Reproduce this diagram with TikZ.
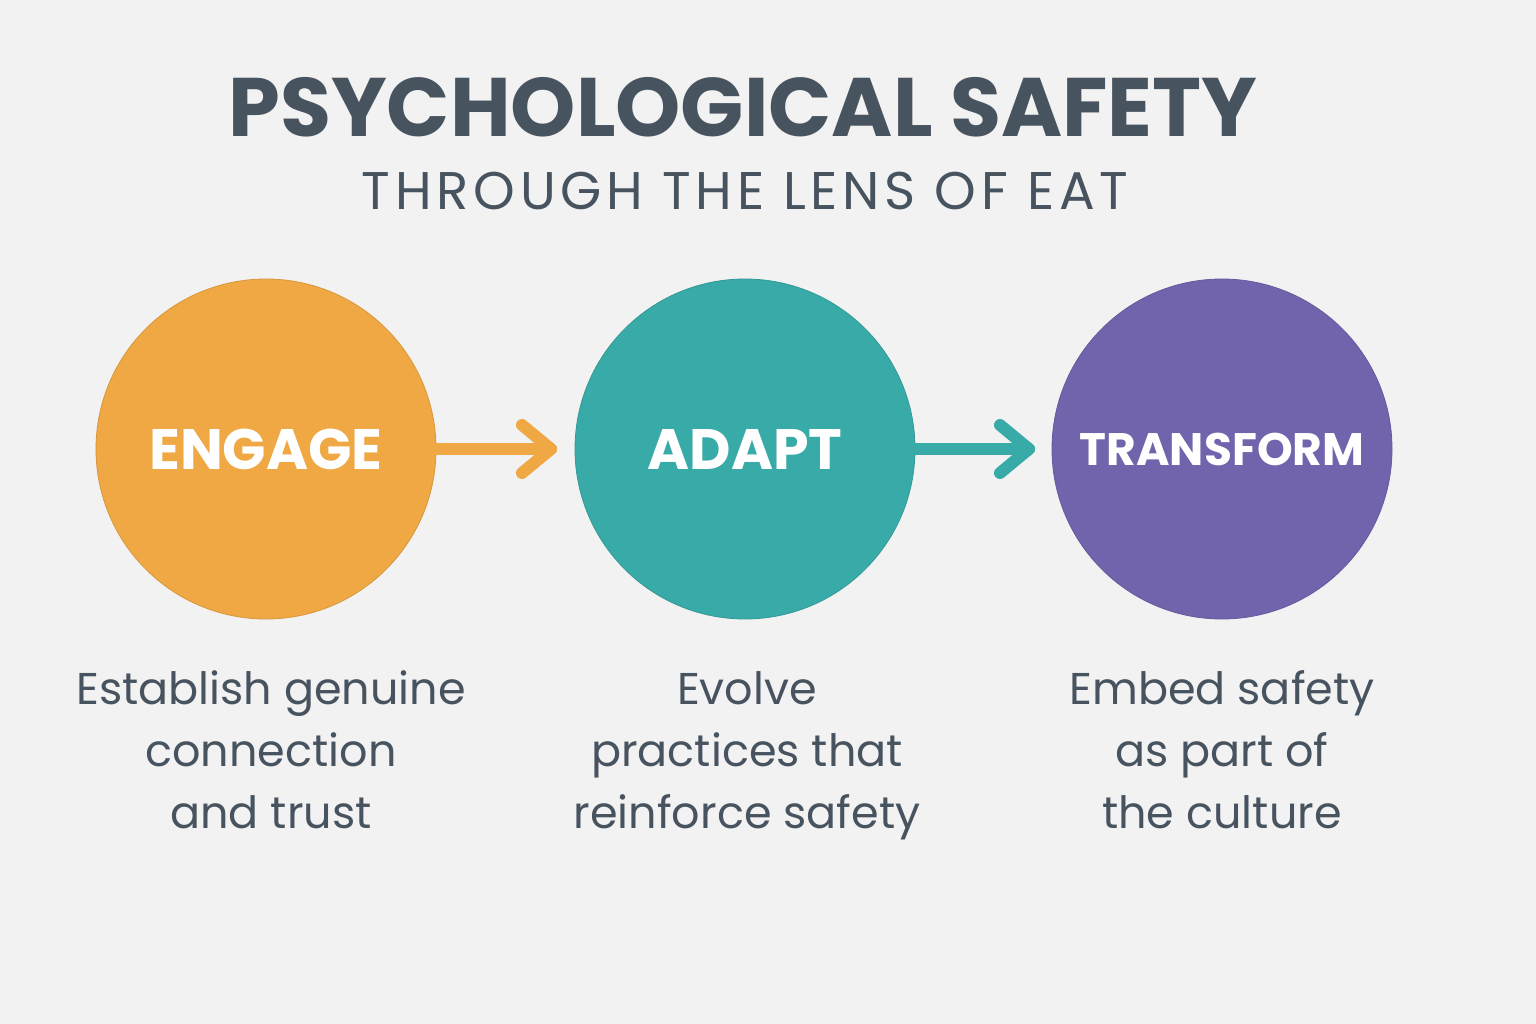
\documentclass[tikz,border=0pt]{standalone}
\usepackage{fontspec}
\setmainfont{Poppins}
\usetikzlibrary{arrows.meta,calc}
\definecolor{bg}{HTML}{F2F2F2}
\definecolor{ink}{HTML}{47535F}
\definecolor{cOrange}{HTML}{EFA843}
\definecolor{cTeal}{HTML}{38AAA8}
\definecolor{cPurple}{HTML}{7263AD}
\newcommand{\lstrut}{\vphantom{Ég}}
\tikzset{
  x=1pt,y=-1pt,
  stage/.style={circle,minimum size=340pt,inner sep=0pt},
  stagelabel/.style={text=white,font=\bfseries\fontsize{57}{60}\selectfont},
  desc/.style={text=ink,align=center,font=\fontsize{44.5}{62}\selectfont},
  flow/.style={line width=12pt,line cap=round,line join=round},
}
\begin{document}
\begin{tikzpicture}
\useasboundingbox[fill=bg] (0,0) rectangle (1536,1024);
\node[text=ink,font=\bfseries\fontsize{83}{90}\selectfont] (title) at (743,107) {PSYCHOLOGICAL SAFETY};
\node[text=ink,font=\fontsize{53}{60}\selectfont\addfontfeatures{LetterSpace=9}] (sub) at (745,191) {THROUGH THE LENS OF EAT};

\node[stage,fill=cOrange,draw=cOrange!90!black,line width=0.8pt] (e) at (266,449) {};
\node[stage,fill=cTeal,draw=cTeal!90!black,line width=0.8pt] (a) at (745,449) {};
\node[stage,fill=cPurple,draw=cPurple!90!black,line width=0.8pt] (t) at (1222,449) {};

\node[stagelabel] (el) at (e.center) {ENGAGE};
\node[stagelabel] (al) at (a.center) {ADAPT};
\node[stagelabel,font=\bfseries\fontsize{45.5}{52}\selectfont] (tl) at (t.center) {TRANSFORM};

\coordinate (e2) at (551,449);
\coordinate (a2) at (1029,449);
\draw[flow,cOrange] (e.east) -- (e2);
\draw[flow,cOrange] ($(e2)+(-29,-24)$) -- (e2) -- ($(e2)+(-29,24)$);
\draw[flow,cTeal] (a.east) -- (a2);
\draw[flow,cTeal] ($(a2)+(-29,-24)$) -- (a2) -- ($(a2)+(-29,24)$);

\node[desc] (ed) at (271,752) {\lstrut Establish genuine\\connection\\and trust\lstrut};
\node[desc] (ad) at (747,752) {\lstrut Evolve\\practices that\\reinforce safety\lstrut};
\node[desc] (td) at (1222,752) {\lstrut Embed safety\\as part of\\the culture\lstrut};
\end{tikzpicture}
\end{document}
